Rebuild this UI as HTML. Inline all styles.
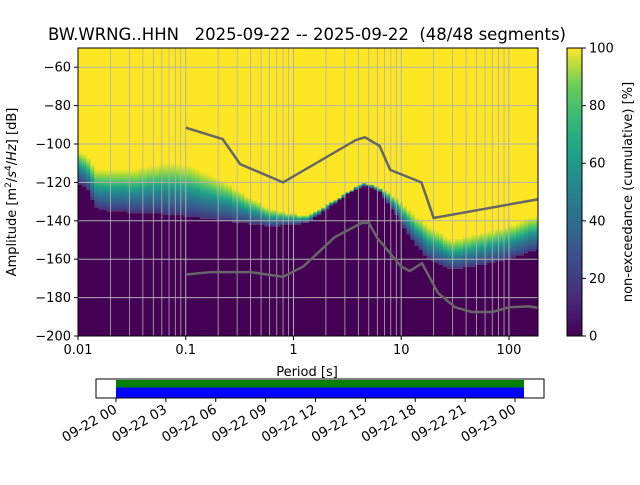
<!DOCTYPE html>
<html><head><meta charset="utf-8"><style>
body{margin:0;background:#fff}
svg{font-family:"DejaVu Sans","Liberation Sans",sans-serif;}
</style></head><body>
<svg id="chart" width="640" height="480" viewBox="0 0 640 480" xmlns="http://www.w3.org/2000/svg">
<defs>
<linearGradient id="vir" x1="0" y1="1" x2="0" y2="0">
<stop offset="0" stop-color="#440154"/><stop offset="0.125" stop-color="#482878"/><stop offset="0.25" stop-color="#3e4989"/><stop offset="0.375" stop-color="#31688e"/><stop offset="0.5" stop-color="#26828e"/><stop offset="0.625" stop-color="#1f9e89"/><stop offset="0.75" stop-color="#35b779"/><stop offset="0.875" stop-color="#6ece58"/><stop offset="1" stop-color="#fde725"/>
</linearGradient>
<linearGradient id="trans" x1="0" y1="1" x2="0" y2="0">
<stop offset="0" stop-color="#46327e"/><stop offset="0.2" stop-color="#365c8d"/><stop offset="0.4" stop-color="#277f8e"/><stop offset="0.55" stop-color="#1fa187"/><stop offset="0.7" stop-color="#4ac16d"/><stop offset="0.85" stop-color="#a0da39"/><stop offset="1" stop-color="#fde725"/>
</linearGradient>
<clipPath id="pc"><rect x="78" y="48" width="460" height="288"/></clipPath>
</defs>
<text x="307" y="40" text-anchor="middle" font-size="16.5" xml:space="preserve">BW.WRNG..HHN   2025-09-22 -- 2025-09-22  (48/48 segments)</text>
<rect x="78" y="48" width="460" height="288" fill="#fde725"/>
<g id="heat" clip-path="url(#pc)"></g>
<g id="grid" clip-path="url(#pc)"></g>
<g id="models" clip-path="url(#pc)"></g>
<rect x="78" y="48" width="460" height="288" fill="none" stroke="#000" stroke-width="1"/>
<g id="axes" font-size="13"></g>
<text x="307" y="376" text-anchor="middle" font-size="13">Period [s]</text>
<text transform="translate(16,192) rotate(-90)" text-anchor="middle" font-size="13">Amplitude [m<tspan font-size="9" dy="-5">2</tspan><tspan dy="5">/</tspan><tspan font-style="italic">s</tspan><tspan font-size="9" dy="-5">4</tspan><tspan dy="5">/</tspan><tspan font-style="italic">Hz</tspan>] [dB]</text>
<rect x="567" y="48" width="15" height="288" fill="url(#vir)" stroke="#000" stroke-width="1"/>
<g id="cbar" font-size="13"></g>
<text transform="translate(632,192) rotate(-90)" text-anchor="middle" font-size="13">non-exceedance (cumulative) [%]</text>
<g>
<rect x="96" y="379" width="448" height="19" fill="#fff" stroke="#000"/>
<rect x="116" y="380" width="408" height="7.5" fill="#008000"/>
<rect x="116" y="387.5" width="408" height="10" fill="#0000ff"/>
</g>
<g id="taxis" font-size="13.5"></g>
</svg>
<script>
const NS="http://www.w3.org/2000/svg";
// heatmap transition data: period (s), dB where colour leaves 0%, dB where it reaches 100%
const binPeriods=[0.01,0.012,0.015,0.03,0.07,0.12,0.25,0.6,1.15,1.4,2.2,3.5,4.5,6.3,8.7,12.5,18,30,60,110,186];
const lowDb=[-121,-122,-134,-135.6,-136.7,-138.2,-140.3,-142.9,-141.9,-140.3,-132.5,-124.7,-121.6,-124.7,-135.6,-149.7,-160.1,-165.3,-162.7,-159.1,-154.9];
const highDb=[-104,-106,-113,-113.2,-109.6,-111.7,-121,-134,-136.7,-136.7,-130.4,-123.6,-120,-122.6,-127.3,-135.6,-142.9,-149.7,-146,-141.9,-136.7];
const nhnmP=[0.1,0.22,0.32,0.8,3.8,4.6,6.3,7.9,15.4,20,354.8];
const nhnmDb=[-91.5,-97.4,-110.5,-120,-97.9,-96.5,-101,-113.5,-120,-138.5,-126];
const nlnmP=[0.1,0.17,0.4,0.8,1.24,2.4,4.3,5,6,10,12,15.6,21.9,31.6,45,70,101,154,328];
const nlnmDb=[-168,-166.7,-166.7,-169.2,-163.7,-148.6,-141.1,-141.1,-149,-163.8,-166.2,-162.1,-177.5,-185,-187.5,-187.5,-185,-184.6,-187.5];
const yTicks=[-60,-80,-100,-120,-140,-160,-180,-200];
const xTicks=[0.01,0.1,1,10,100];
const xTickLabels=["0.01","0.1","1","10","100"];
const cbTicks=[0,20,40,60,80,100];
const timeLabels=["09-22 00","09-22 03","09-22 06","09-22 09","09-22 12","09-22 15","09-22 18","09-22 21","09-23 00"];
const timeHours=[0,3,6,9,12,15,18,21,24];

const X0=78,X1=538,Y0=48,Y1=336,DB_TOP=-50,DB_BOT=-200,LP0=-2,LP1=Math.log10(186);
const xs=p=>X0+(Math.log10(p)-LP0)/(LP1-LP0)*(X1-X0);
const ys=d=>Y0+(DB_TOP-d)/(DB_TOP-DB_BOT)*(Y1-Y0);
const tx=h=>116+h*(515-116)/24;
function el(t,a,parent){const e=document.createElementNS(NS,t);for(const k in a)e.setAttribute(k,a[k]);parent.appendChild(e);return e;}
function interp(arrP,arrV,p){const lp=Math.log10(p);for(let i=0;i<arrP.length-1;i++){const a=Math.log10(arrP[i]),b=Math.log10(arrP[i+1]);if(lp>=a&&lp<=b){return arrV[i]+(arrV[i+1]-arrV[i])*(lp-a)/(b-a);}}return lp<Math.log10(arrP[0])?arrV[0]:arrV[arrV.length-1];}

const heat=document.getElementById('heat');
const step=0.125*Math.log10(2);
for(let lp=-2;lp<LP1;lp+=step){
  const p=Math.pow(10,lp+step/2);
  const lo=Math.round(interp(binPeriods,lowDb,p)),hi=Math.round(interp(binPeriods,highDb,p));
  const xa=xs(Math.pow(10,lp)),xb=xs(Math.pow(10,lp+step));
  const r=el('rect',{x:xa,y:ys(lo),width:xb-xa+0.6,height:Y1-ys(lo),fill:'#440154'},heat);
  
  
  const t=el('rect',{x:xa,y:ys(hi),width:xb-xa+0.6,height:Math.max(0.5,ys(lo)-ys(hi)),fill:'url(#trans)'},heat);
  
  
}
const grid=document.getElementById('grid');
for(let d=-2;d<=2;d++){for(let m=1;m<=9;m++){const p=m*Math.pow(10,d);if(p<0.01||p>186)continue;const x=xs(p);
  const g=el('line',{x1:x,x2:x,y1:Y0,y2:Y1,stroke:'#b0b0b0','stroke-width':m==1?1:0.8},grid);
  
  }}
yTicks.forEach(v=>{const g=el('line',{x1:X0,x2:X1,y1:ys(v),y2:ys(v),stroke:'#b0b0b0','stroke-width':1},grid);
  
  });
const models=document.getElementById('models');
[[nhnmP,nhnmDb,'nhnm-line'],[nlnmP,nlnmDb,'nlnm-line']].forEach(([P,D,n])=>{
  const pl=el('polyline',{points:P.map((p,i)=>xs(p)+','+ys(D[i])).join(' '),fill:'none',stroke:'#666','stroke-width':2.5},models);
  
  });
const axes=document.getElementById('axes');
yTicks.forEach(v=>{el('line',{x1:X0-4,x2:X0,y1:ys(v),y2:ys(v),stroke:'#000'},axes);
  const t=el('text',{x:X0-7,y:ys(v)+4.5,'text-anchor':'end'},axes);t.textContent=String(v).replace('-','\u2212');
  
  });
xTicks.forEach((v,i)=>{const x=xs(v);el('line',{x1:x,x2:x,y1:Y1,y2:Y1+4,stroke:'#000'},axes);
  const t=el('text',{x:x,y:Y1+18,'text-anchor':'middle'},axes);t.textContent=xTickLabels[i];
  
  });
const cb=document.getElementById('cbar');
cbTicks.forEach(v=>{const y=336-v/100*288;el('line',{x1:582,x2:586,y1:y,y2:y,stroke:'#000'},cb);
  const t=el('text',{x:589,y:y+4.5},cb);t.textContent=v;
  
  });
const ta=document.getElementById('taxis');
timeHours.forEach((h,i)=>{const x=tx(h);el('line',{x1:x,x2:x,y1:398,y2:402,stroke:'#000'},ta);
  const t=el('text',{x:x+2,y:412,'text-anchor':'end',transform:`rotate(-30 ${x+2} 412)`},ta);t.textContent=timeLabels[i];
  
  });
</script>
</body></html>
